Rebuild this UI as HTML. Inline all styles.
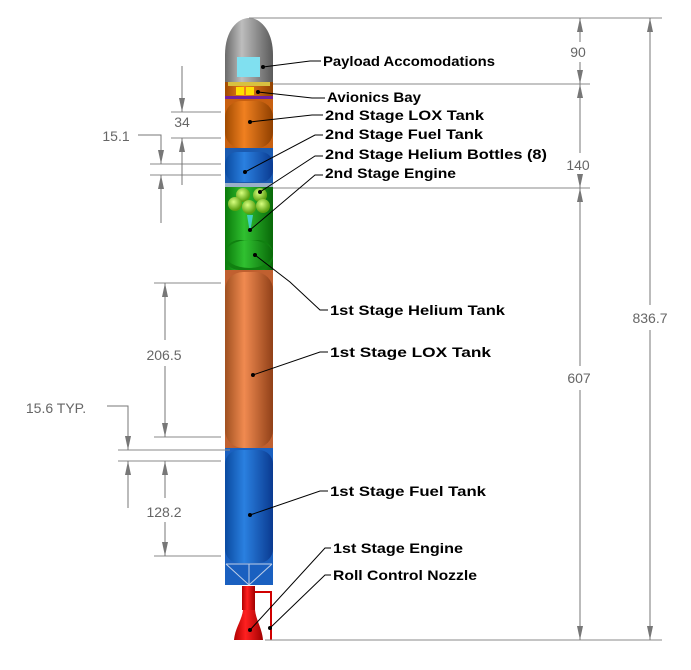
<!DOCTYPE html>
<html><head><meta charset="utf-8"><style>html,body{margin:0;padding:0;background:#fff}svg{display:block}</style></head><body>
<svg width="691" height="670" viewBox="0 0 691 670" xmlns="http://www.w3.org/2000/svg">
<defs>
<linearGradient id="gr" x1="0" x2="1"><stop offset="0" stop-color="#6a6a6a"/><stop offset=".35" stop-color="#bdbdbd"/><stop offset="1" stop-color="#5a5a5a"/></linearGradient>
<linearGradient id="or" x1="0" x2="1"><stop offset="0" stop-color="#a05020"/><stop offset=".4" stop-color="#f08a50"/><stop offset="1" stop-color="#904018"/></linearGradient>
<linearGradient id="or2" x1="0" x2="1"><stop offset="0" stop-color="#a04a00"/><stop offset=".4" stop-color="#f08020"/><stop offset="1" stop-color="#904000"/></linearGradient>
<linearGradient id="bl" x1="0" x2="1"><stop offset="0" stop-color="#0a4aa0"/><stop offset=".4" stop-color="#2a80e0"/><stop offset="1" stop-color="#0a3a90"/></linearGradient>
<linearGradient id="gn" x1="0" x2="1"><stop offset="0" stop-color="#0a7a0a"/><stop offset=".4" stop-color="#30c030"/><stop offset="1" stop-color="#086808"/></linearGradient>
<linearGradient id="rd" x1="0" x2="1"><stop offset="0" stop-color="#b00000"/><stop offset=".4" stop-color="#ff2020"/><stop offset="1" stop-color="#a00000"/></linearGradient>
<radialGradient id="sp" cx=".4" cy=".35" r=".6"><stop offset="0" stop-color="#d8ff80"/><stop offset="1" stop-color="#5aa010"/></radialGradient>
<marker id="a" viewBox="0 0 14 6" refX="14" refY="3" markerWidth="14" markerHeight="6" orient="auto-start-reverse" markerUnits="userSpaceOnUse"><path d="M0,0 L14,3 L0,6 Z" fill="#777"/></marker>
</defs>
<!-- rocket -->
<path d="M225,82 L225,55 C225,30 238,18 249,18 C260,18 273,30 273,55 L273,82 Z" fill="url(#gr)"/>
<rect x="237" y="57" width="23" height="20" fill="#80e0f0"/>
<rect x="225" y="82" width="48" height="16" fill="url(#or2)"/>
<rect x="228" y="82" width="42" height="4" fill="#d8c040"/>
<rect x="236" y="87" width="8" height="8" fill="#ffe000"/><rect x="246" y="87" width="8" height="8" fill="#ffe000"/>
<rect x="225" y="96" width="48" height="3" fill="#7020a0"/>
<rect x="225" y="99" width="48" height="54" fill="#c86010"/>
<rect x="225" y="101" width="48" height="47" rx="16" fill="url(#or2)"/>
<rect x="225" y="148" width="48" height="36" fill="#1a5ab0"/>
<rect x="225" y="152" width="48" height="30" rx="12" fill="url(#bl)"/>
<rect x="225" y="183" width="48" height="4" fill="#9ab0c8"/>
<rect x="225" y="187" width="48" height="85" fill="url(#gn)"/>
<polygon points="247,215 253,215 250,233" fill="#40d0c0"/>
<circle cx="243" cy="195" r="7" fill="url(#sp)"/><circle cx="260" cy="195" r="7" fill="url(#sp)"/>
<circle cx="235" cy="204" r="7" fill="url(#sp)"/><circle cx="249" cy="207" r="7" fill="url(#sp)"/><circle cx="263" cy="206" r="7" fill="url(#sp)"/>
<rect x="225" y="240" width="48" height="30" rx="14" fill="#108010"/>
<ellipse cx="249" cy="254" rx="24" ry="14" fill="url(#gn)"/>
<rect x="225" y="270" width="48" height="180" fill="#c06030"/>
<rect x="225" y="272" width="48" height="176" rx="18" fill="url(#or)"/>
<rect x="225" y="448" width="48" height="137" fill="#1a60c0"/>
<rect x="225" y="450" width="48" height="113" rx="14" fill="url(#bl)"/>
<path d="M226,564 L249,585 L272,564 M249,564 L249,585 M226,564 L272,564" stroke="#c0d0e8" stroke-width="1" fill="none"/>
<rect x="242" y="586" width="13" height="24" fill="url(#rd)"/>
<path d="M243,610 L255,610 C256,620 262,628 263,640 L234,640 C235,628 242,620 243,610 Z" fill="url(#rd)"/>
<path d="M255,592 L271,592 L271,640" stroke="#d00000" stroke-width="2" fill="none"/>
<!-- extension lines -->
<g stroke="#888" stroke-width="1" fill="none">
<line x1="249" y1="18" x2="662" y2="18"/>
<line x1="273" y1="84" x2="590" y2="84"/>
<line x1="273" y1="188" x2="590" y2="188"/>
<line x1="265" y1="640" x2="662" y2="640"/>
<line x1="171" y1="112" x2="221" y2="112"/>
<line x1="171" y1="138" x2="221" y2="138"/>
<line x1="150" y1="164" x2="221" y2="164"/>
<line x1="150" y1="175" x2="221" y2="175"/>
<line x1="154" y1="283" x2="221" y2="283"/>
<line x1="154" y1="437" x2="221" y2="437"/>
<line x1="118" y1="450" x2="230" y2="450"/>
<line x1="118" y1="461" x2="221" y2="461"/>
<line x1="154" y1="556" x2="221" y2="556"/>
</g>
<g stroke="#777" stroke-width="1" fill="none">
<line x1="580" y1="18" x2="580" y2="42" marker-start="url(#a)"/>
<line x1="580" y1="62" x2="580" y2="84" marker-end="url(#a)"/>
<line x1="580" y1="84" x2="580" y2="153" marker-start="url(#a)"/>
<line x1="580" y1="175" x2="580" y2="188" marker-end="url(#a)"/>
<line x1="580" y1="188" x2="580" y2="366" marker-start="url(#a)"/>
<line x1="580" y1="390" x2="580" y2="640" marker-end="url(#a)"/>
<line x1="650" y1="18" x2="650" y2="305" marker-start="url(#a)"/>
<line x1="650" y1="330" x2="650" y2="640" marker-end="url(#a)"/>
<line x1="182" y1="66" x2="182" y2="112" marker-end="url(#a)"/>
<line x1="182" y1="138" x2="182" y2="185" marker-start="url(#a)"/>
<polyline points="138,135 161,135 161,164" marker-end="url(#a)"/>
<line x1="161" y1="175" x2="161" y2="223" marker-start="url(#a)"/>
<line x1="165" y1="283" x2="165" y2="340" marker-start="url(#a)"/>
<line x1="165" y1="366" x2="165" y2="437" marker-end="url(#a)"/>
<polyline points="107,406 128,406 128,450" marker-end="url(#a)"/>
<line x1="128" y1="461" x2="128" y2="508" marker-start="url(#a)"/>
<line x1="165" y1="461" x2="165" y2="498" marker-start="url(#a)"/>
<line x1="165" y1="522" x2="165" y2="556" marker-end="url(#a)"/>
</g>
<g font-family="Liberation Sans, sans-serif" font-size="14" fill="#666" text-anchor="middle">
<text x="578" y="57">90</text><text x="578" y="170">140</text><text x="579" y="383">607</text><text x="650" y="323">836.7</text>
<text x="182" y="127">34</text><text x="116" y="141">15.1</text><text x="164" y="360">206.5</text><text x="56" y="413">15.6 TYP.</text><text x="164" y="517">128.2</text>
</g>
<!-- leaders -->
<g stroke="#000" stroke-width="1" fill="none">
<polyline points="263,67 310,61 321,61"/>
<polyline points="258,92 312,98 325,98"/>
<polyline points="250,122 312,115 323,115"/>
<polyline points="245,172 315,135 323,135"/>
<polyline points="260,192 315,156 323,156"/>
<polyline points="250,230 315,175 323,175"/>
<polyline points="255,255 290,282 320,310 328,310"/>
<polyline points="253,375 320,352 328,352"/>
<polyline points="250,515 320,491 328,491"/>
<polyline points="250,630 325,548 331,548"/>
<polyline points="270,628 325,575 331,575"/>
</g>
<g fill="#000">
<circle cx="263" cy="67" r="2"/><circle cx="258" cy="92" r="2"/><circle cx="250" cy="122" r="2"/><circle cx="245" cy="172" r="2"/><circle cx="260" cy="192" r="2"/><circle cx="250" cy="230" r="2"/><circle cx="255" cy="255" r="2"/><circle cx="253" cy="375" r="2"/><circle cx="250" cy="515" r="2"/><circle cx="250" cy="630" r="2"/><circle cx="270" cy="628" r="2"/>
</g>
<g font-family="Liberation Sans, sans-serif" font-size="14" font-weight="bold" fill="#000">
<text x="323" y="66" textLength="172" lengthAdjust="spacingAndGlyphs">Payload Accomodations</text>
<text x="327" y="102" textLength="94" lengthAdjust="spacingAndGlyphs">Avionics Bay</text>
<text x="325" y="120" textLength="159" lengthAdjust="spacingAndGlyphs">2nd Stage LOX Tank</text>
<text x="325" y="139" textLength="158" lengthAdjust="spacingAndGlyphs">2nd Stage Fuel Tank</text>
<text x="325" y="159" textLength="222" lengthAdjust="spacingAndGlyphs">2nd Stage Helium Bottles (8)</text>
<text x="325" y="178" textLength="131" lengthAdjust="spacingAndGlyphs">2nd Stage Engine</text>
<text x="330" y="315" textLength="175" lengthAdjust="spacingAndGlyphs">1st Stage Helium Tank</text>
<text x="330" y="357" textLength="161" lengthAdjust="spacingAndGlyphs">1st Stage LOX Tank</text>
<text x="330" y="496" textLength="156" lengthAdjust="spacingAndGlyphs">1st Stage Fuel Tank</text>
<text x="333" y="553" textLength="130" lengthAdjust="spacingAndGlyphs">1st Stage Engine</text>
<text x="333" y="580" textLength="144" lengthAdjust="spacingAndGlyphs">Roll Control Nozzle</text>
</g>
</svg>
</body></html>
